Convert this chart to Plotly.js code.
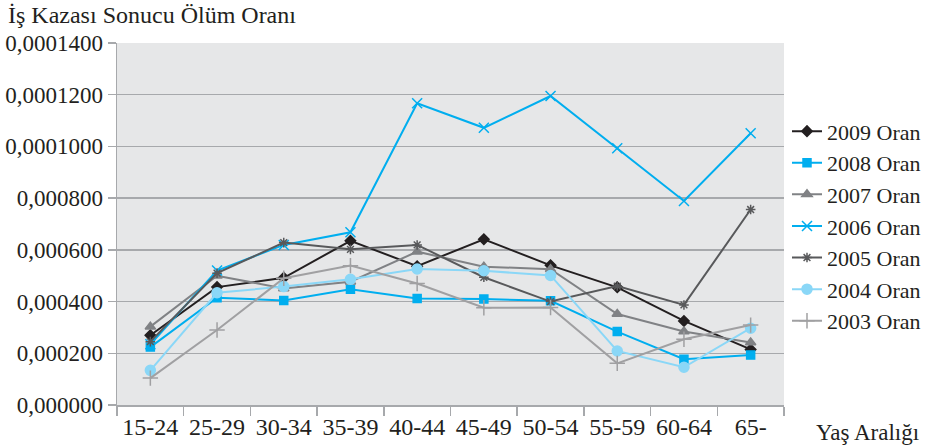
<!DOCTYPE html>
<html>
<head>
<meta charset="utf-8">
<script src="https://cdn.plot.ly/plotly-3.0.1.min.js"></script>
<style>html,body{margin:0;padding:0;background:#fff;}</style>
</head>
<body>
<div id="chart" style="width:938px;height:448px;"></div>
<script>
const categories = ["15-24","25-29","30-34","35-39","40-44","45-49","50-54","55-59","60-64","65-"];
const y2009 = [0.000270,0.000456,0.000492,0.000635,0.000537,0.000641,0.000540,0.000455,0.000325,0.000215];
const y2008 = [0.000224,0.000415,0.000404,0.000448,0.000412,0.000410,0.000403,0.000284,0.000177,0.000193];
const y2007 = [0.000303,0.000500,0.000451,0.000477,0.000593,0.000535,0.000525,0.000352,0.000284,0.000242];
const y2006 = [0.000235,0.000520,0.000619,0.000668,0.001167,0.001072,0.001195,0.000993,0.000789,0.001051];
const y2005 = [0.000245,0.000510,0.000628,0.000602,0.000619,0.000494,0.000400,0.000460,0.000387,0.000756];
const y2004 = [0.000134,0.000434,0.000458,0.000486,0.000526,0.000519,0.000501,0.000209,0.000146,0.000297];
const y2003 = [0.000104,0.000290,0.000490,0.000539,0.000470,0.000376,0.000377,0.000161,0.000254,0.000309];
const seriesNames = ["2009 Oran","2008 Oran","2007 Oran","2006 Oran","2005 Oran","2004 Oran","2003 Oran"];
const yTickVals = [0,0.0002,0.0004,0.0006,0.0008,0.0010,0.0012,0.0014];
const yTickText = ["0,000000","0,000200","0,000400","0,000600","0,000800","0,0001000","0,0001200","0,0001400"];
const yTitle = "İş Kazası Sonucu Ölüm Oranı";
const xTitle = "Yaş Aralığı";

const font = "Liberation Serif";
const textColor = "#231f20";

const styles = [
  {color:"#231f20", symbol:"diamond", size:8},
  {color:"#00aeef", symbol:"square", size:8},
  {color:"#808285", symbol:"triangle-up", size:9},
  {color:"#00aeef", symbol:"x-thin-open", size:10},
  {color:"#58595b", symbol:"asterisk-open", size:8},
  {color:"#8ad7f7", symbol:"circle", size:10},
  {color:"#a0a0a2", symbol:"cross-thin-open", size:11}
];
const ys = [y2009,y2008,y2007,y2006,y2005,y2004,y2003];

const traces = ys.map((y,i)=>({
  type:"scatter", mode:"lines+markers", name:seriesNames[i],
  x:categories, y:y,
  line:{color:styles[i].color, width:2},
  marker:{color:styles[i].color, symbol:styles[i].symbol, size:styles[i].size,
          line:{color:styles[i].color, width:1.5}}
}));

const layout = {
  width:938, height:448,
  margin:{l:117, r:151, t:43, b:43},
  paper_bgcolor:"#ffffff", plot_bgcolor:"#e6e7e8",
  font:{family:font, size:23, color:textColor},
  showlegend:true,
  legend:{x:1.0045, xanchor:"left", y:0.814, yanchor:"top", font:{family:font, size:22, color:textColor},
          bgcolor:"rgba(0,0,0,0)", itemwidth:30, tracegroupgap:0},
  xaxis:{type:"category", showgrid:false, showline:true, linecolor:"#a7a9ac", linewidth:1.5,
         ticks:"outside", ticklen:9, tickcolor:"#a7a9ac", tickwidth:1.5, tickson:"boundaries",
         tickfont:{family:font, size:24, color:textColor}, zeroline:false, range:[-0.5,9.5]},
  yaxis:{range:[0,0.0014], tickvals:yTickVals, ticktext:yTickText, showgrid:true,
         gridcolor:"#a7a9ac", gridwidth:1.5, showline:true, linecolor:"#a7a9ac", linewidth:1.5,
         ticks:"outside", ticklen:8, tickcolor:"#a7a9ac", tickwidth:1.5, zeroline:false,
         tickfont:{family:font, size:23, color:textColor}},
  annotations:[
    {text:yTitle, xref:"paper", yref:"paper", x:-0.167, y:1.077, xanchor:"left", yanchor:"middle",
     showarrow:false, font:{family:font, size:24, color:textColor}},
    {text:xTitle, xref:"paper", yref:"paper", x:1.045, y:-0.075, xanchor:"left", yanchor:"middle",
     showarrow:false, font:{family:font, size:23, color:textColor}}
  ]
};

Plotly.newPlot("chart", traces, layout, {displayModeBar:false, staticPlot:true});
</script>
</body>
</html>
